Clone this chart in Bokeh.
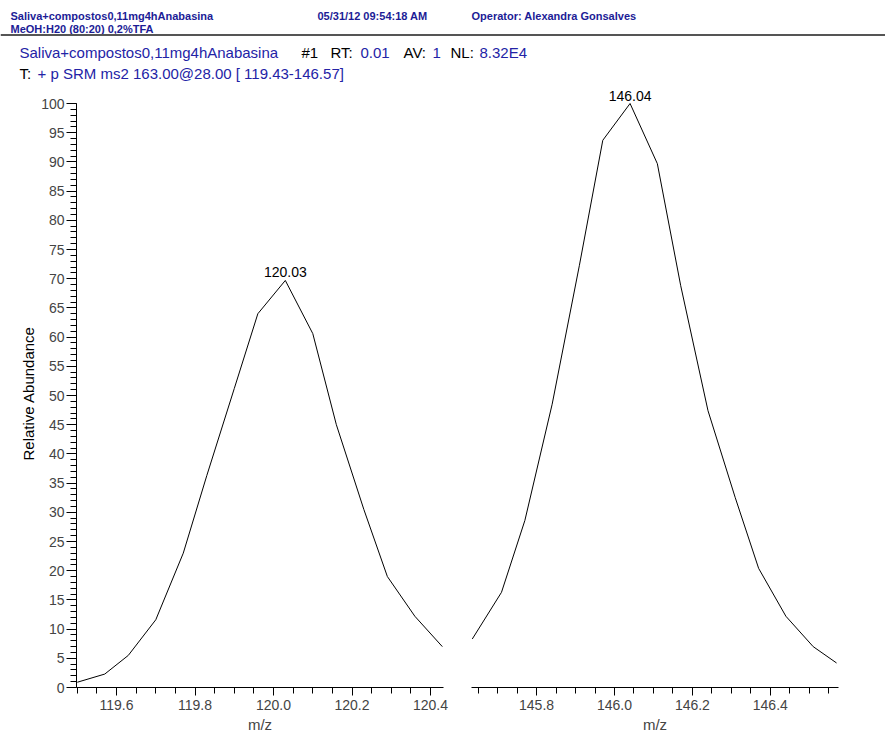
from bokeh.plotting import figure
from bokeh.models import Range1d, Label, Span, Title, SingleIntervalTicker, PrintfTickFormatter
from bokeh.layouts import column, row
from bokeh.embed import file_html
from bokeh.resources import INLINE

# ---- spectrum data: two SRM product-ion windows ----
left_mz = [119.50, 119.57, 119.63, 119.70, 119.77, 119.83, 119.90, 119.96,
           120.03, 120.10, 120.16, 120.23, 120.29, 120.36, 120.43]
left_ab = [0.9, 2.3, 5.5, 11.6, 23.0, 36.3, 51.2, 64.0,
           69.7, 60.6, 45.0, 30.5, 19.0, 12.2, 7.0]

right_mz = [145.635, 145.71, 145.77, 145.84, 145.91, 145.97, 146.04, 146.11,
            146.17, 146.24, 146.31, 146.37, 146.44, 146.51, 146.57]
right_ab = [8.3, 16.3, 28.6, 48.5, 72.3, 93.7, 100.0, 89.7,
            68.8, 47.4, 32.5, 20.4, 12.2, 7.0, 4.2]

left_peak = (120.03, 69.7, "120.03")
right_peak = (146.04, 100.0, "146.04")

left_xrange = (119.498, 120.433)
right_xrange = (145.633, 146.575)

FONT = "Liberation Sans"
BLUE = "#2323a6"
NAVY = "#1c1c96"

HDR_H = 82
PANEL_H = 738 - HDR_H
BOTTOM = 51
AXIS_PX = 584                       # pixel height of the 0-100 % scale
FRAME_PX = PANEL_H - BOTTOM         # frames run to the top so the apex label fits
ymax = 100.0 * FRAME_PX / AXIS_PX

# ---- header block ----
hdr = figure(width=885, height=HDR_H, x_range=Range1d(0, 885), y_range=Range1d(HDR_H, 0),
             output_backend="svg", toolbar_location=None,
             x_axis_location=None, y_axis_location=None, min_border=0)
hdr.outline_line_color = None
hdr.grid.visible = False


def hlabel(x, y, text, color, size, bold=False):
    hdr.add_layout(Label(x=x, y=y, text=text, text_color=color, text_font=FONT,
                         text_font_size=size, text_font_style="bold" if bold else "normal",
                         text_baseline="middle", text_align="left"))


hlabel(10, 15, "Saliva+compostos0,11mg4hAnabasina", NAVY, "11px", True)
hlabel(10, 28, "MeOH:H20 (80:20) 0,2%TFA", NAVY, "11px", True)
hlabel(317, 15, "05/31/12 09:54:18 AM", NAVY, "11px", True)
hlabel(471, 15, "Operator: Alexandra Gonsalves", NAVY, "11px", True)
hdr.add_layout(Span(location=34.5, dimension="width", line_color="#555555", line_width=2))

title_parts = [
    (19, "Saliva+compostos0,11mg4hAnabasina", BLUE),
    (301, "#1", "black"),
    (330, "RT:", "black"),
    (360, "0.01", BLUE),
    (403, "AV:", "black"),
    (432, "1", BLUE),
    (450, "NL:", "black"),
    (479, "8.32E4", BLUE),
]
for x, t, c in title_parts:
    hlabel(x, 52, t, c, "15px")
hlabel(19, 73, "T:", "black", "15px")
hlabel(37, 73, "+ p SRM ms2 163.00@28.00 [ 119.43-146.57]", BLUE, "15px")


def style_xaxis(p):
    ax = p.xaxis[0]
    ax.ticker = SingleIntervalTicker(interval=0.2, num_minor_ticks=4)
    ax.formatter = PrintfTickFormatter(format="%.1f")
    ax.axis_label = "m/z"
    ax.axis_label_text_font = FONT
    ax.axis_label_text_font_size = "15px"
    ax.axis_label_text_font_style = "normal"
    ax.axis_label_standoff = 3
    ax.major_label_text_font = FONT
    ax.major_label_text_font_size = "14px"
    ax.major_label_standoff = 4
    ax.major_tick_in = 0
    ax.major_tick_out = 8
    ax.minor_tick_in = 0
    ax.minor_tick_out = 6
    ax.axis_line_color = "black"
    ax.major_tick_line_color = "black"
    ax.minor_tick_line_color = "black"


def panel(width, xr, mz, ab, peak, left_border, right_border, with_yaxis):
    p = figure(width=width, height=PANEL_H, x_range=Range1d(*xr), y_range=Range1d(0, ymax),
               output_backend="svg", toolbar_location=None,
               y_axis_location="left" if with_yaxis else None,
               min_border_left=left_border, min_border_right=right_border,
               min_border_top=0, min_border_bottom=BOTTOM)
    p.outline_line_color = None
    p.grid.visible = False
    p.line(mz, ab, line_color="black", line_width=1)
    p.add_layout(Label(x=peak[0], y=peak[1], text=peak[2], text_font=FONT,
                       text_font_size="14px", text_align="center",
                       text_baseline="bottom", y_offset=3, text_color="black"))
    style_xaxis(p)
    if with_yaxis:
        ay = p.yaxis[0]
        ay.bounds = (0, 100)
        ay.ticker = SingleIntervalTicker(interval=5, num_minor_ticks=5)
        ay.major_label_text_font = FONT
        ay.major_label_text_font_size = "14px"
        ay.major_label_standoff = 2
        ay.major_tick_in = 0
        ay.major_tick_out = 10
        ay.minor_tick_in = 0
        ay.minor_tick_out = 6
        ay.axis_line_color = "black"
        ay.major_tick_line_color = "black"
        ay.minor_tick_line_color = "black"
        # axis title centred on the 0-100 % span rather than on the taller frame
        p.add_layout(Title(text="Relative Abundance", align="left", offset=227,
                           text_font=FONT, text_font_size="15px",
                           text_font_style="normal", text_color="black",
                           standoff=3), "left")
    return p


left = panel(457, left_xrange, left_mz, left_ab, left_peak, 76, 14, True)
right = panel(428, right_xrange, right_mz, right_ab, right_peak, 14, 47, False)

page = column(hdr, row(left, right, spacing=0), spacing=0)

with open("out.html", "w") as f:
    f.write(file_html(page, INLINE))
